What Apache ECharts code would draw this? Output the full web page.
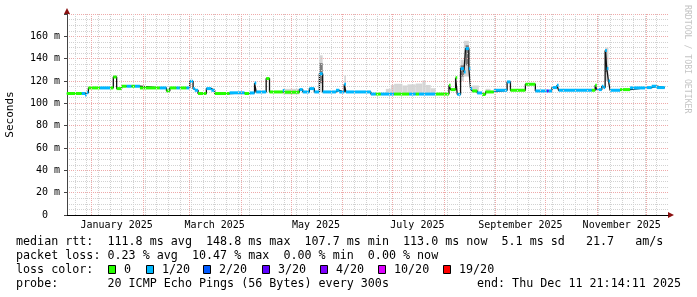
<!DOCTYPE html>
<html>
<head>
<meta charset="utf-8">
<script src="https://cdn.jsdelivr.net/npm/echarts@6/dist/echarts.min.js"></script>
<style>
html,body{margin:0;padding:0;background:#fff;}
#c{width:697px;height:297px;}
</style>
</head>
<body>
<div id="c"></div>
<script>
// ---- data ----
const axisStart = '2024-12-17 03:00';
const axisEnd = '2025-12-13 20:00';
const dataEnd = '2025-12-11 21:14';

// median rtt (ms) segments: start date, value, lost pings out of 20
const segStart = [
 '2024-12-17','2024-12-26','2024-12-28','2024-12-29','2024-12-30','2025-01-06','2025-01-12','2025-01-14','2025-01-16','2025-01-19',
 '2025-01-22','2025-01-25','2025-01-27','2025-01-30','2025-02-11','2025-02-15','2025-02-17','2025-02-21','2025-02-23','2025-02-27',
 '2025-03-01','2025-03-03','2025-03-04','2025-03-06','2025-03-11','2025-03-14','2025-03-16','2025-03-25','2025-04-03','2025-04-06',
 '2025-04-09','2025-04-10','2025-04-16','2025-04-18','2025-04-26','2025-04-27','2025-05-06','2025-05-08','2025-05-12','2025-05-15',
 '2025-05-18','2025-05-20','2025-05-28','2025-05-30','2025-06-02','2025-06-03','2025-06-18','2025-06-21','2025-06-24','2025-07-02',
 '2025-07-11','2025-07-15','2025-07-17','2025-07-27','2025-08-04','2025-08-05','2025-08-08','2025-08-09','2025-08-11','2025-08-13',
 '2025-08-14','2025-08-16','2025-08-17','2025-08-18','2025-08-21','2025-08-24','2025-08-26','2025-08-31','2025-09-08','2025-09-10',
 '2025-09-19','2025-09-25','2025-10-02','2025-10-03','2025-10-05','2025-10-08','2025-10-09','2025-10-29','2025-10-31','2025-11-01',
 '2025-11-04','2025-11-05','2025-11-06','2025-11-07','2025-11-08','2025-11-09','2025-11-15','2025-11-21','2025-11-30','2025-12-04',
 '2025-12-07'
];
const medianMs = [
 108.8,108.8,107.5,109.5,113.8,113.8,113.8,123.6,113.2,115.3,
 115.3,115.3,115.3,113.8,113.8,111.1,113.8,113.8,113.8,113.8,
 119.7,113.2,111.7,108.8,113.2,111.7,108.8,109.4,108.8,109.3,
 118.2,110.2,122.2,110.2,111.5,110.0,112.3,110.2,113.2,110.2,
 126.5,110.2,111.7,110.2,117.0,110.2,108.3,108.3,108.3,108.3,
 108.3,108.3,108.3,108.3,116.2,112.3,123.0,108.1,131.1,128.1,
 149.0,131.0,113.2,111.1,109.3,107.9,110.2,111.7,119.2,111.7,
 117.1,111.1,111.1,111.1,114.1,116.2,111.7,111.7,116.2,112.3,
 115.3,114.1,147.4,131.1,120.0,111.7,112.3,113.8,114.1,115.3,
 114.1
];
const lossCount = [
 0,1,1,1,0,1,0,0,0,0,
 1,0,1,0,1,0,0,1,0,1,
 1,1,1,0,1,1,0,1,0,1,
 1,1,0,0,1,0,1,1,1,1,
 1,1,1,1,1,1,1,0,1,0,
 1,0,1,0,0,0,0,1,1,1,
 1,1,1,0,1,0,0,1,1,0,
 0,1,3,1,1,1,1,0,0,1,
 1,1,1,1,1,1,0,1,1,1,
 1
];

// smoke (spread of the 20 pings), light outer band
const smokeStart = ['2025-04-26','2025-05-18','2025-06-02','2025-06-27','2025-06-30','2025-07-02','2025-07-07','2025-07-10','2025-07-15','2025-07-19','2025-07-21','2025-07-24','2025-08-11','2025-08-13','2025-08-18','2025-08-26','2025-11-06'];
const smokeEnd   = ['2025-05-06','2025-05-20','2025-06-03','2025-06-30','2025-07-02','2025-07-07','2025-07-10','2025-07-15','2025-07-19','2025-07-21','2025-07-24','2025-07-27','2025-08-13','2025-08-16','2025-08-22','2025-08-29','2025-11-08'];
const smokeLow   = [108, 110, 110, 108.5, 108.5, 108.5, 108.5, 108.5, 108.5, 108.5, 108.5, 108.5, 120, 124, 110, 110, 120];
const smokeHigh  = [113, 143, 125, 113, 116.5, 117.5, 116, 117, 117.7, 120.5, 116.5, 113.5, 139, 156, 116, 113, 150];
// dense core of the smoke
const coreStart = ['2025-05-18','2025-08-11','2025-08-14','2025-11-06'];
const coreEnd   = ['2025-05-20','2025-08-13','2025-08-16','2025-11-07'];
const coreLow   = [118, 124, 134, 128];
const coreHigh  = [136, 134, 152, 148];

// tick labels
const xLabelDates = ['2025-01-16','2025-03-16','2025-05-16','2025-07-16','2025-09-16','2025-11-16'];
const xLabelNames = ['January 2025','March 2025','May 2025','July 2025','September 2025','November 2025'];
const yLabelMax = 160;

// legend values
const lossLevels = [0, 1, 2, 3, 4, 10, 19];
const lossLabels = ['0', '1/20', '2/20', '3/20', '4/20', '10/20', '19/20'];
const lossColors = ['#26ff00', '#00b8ff', '#0059ff', '#5e00ff', '#7e00ff', '#dd00ff', '#ff0000'];
const statLine1 = 'median rtt:  111.8 ms avg  148.8 ms max  107.7 ms min  113.0 ms now  5.1 ms sd   21.7   am/s';
const statLine2 = 'packet loss: 0.23 % avg  10.47 % max  0.00 % min  0.00 % now';
const probeLine = 'probe:       20 ICMP Echo Pings (56 Bytes) every 300s';
const endLine = 'end: Thu Dec 11 21:14:11 2025';

// ---- helpers ----
function toTime(s) {
  const parts = s.split(' ');
  const d = parts[0].split('-').map(Number);
  let hh = 0, mm = 0;
  if (parts[1]) { const h = parts[1].split(':').map(Number); hh = h[0]; mm = h[1] || 0; }
  return new Date(d[0], d[1] - 1, d[2], hh, mm).getTime();
}
function lossColor(n) {
  let c = lossColors[0];
  for (let i = 0; i < lossLevels.length; i++) if (n >= lossLevels[i]) c = lossColors[i];
  return c;
}
const tMin = toTime(axisStart), tMax = toTime(axisEnd);

// grid line dates: month starts and weekly (Sunday) lines
const monthLines = [], weekLines = [];
for (let y = 2024, m = 11; ; ) {
  const t = new Date(y, m, 1).getTime();
  if (t > tMax) break;
  if (t >= tMin) monthLines.push(t);
  m++; if (m > 11) { m = 0; y++; }
}
for (let k = 0; ; k++) {
  const t = new Date(2024, 11, 22 + 7 * k).getTime();
  if (t > tMax) break;
  weekLines.push(t);
}

const segData = segStart.map((s, i) => [
  toTime(s),
  i + 1 < segStart.length ? toTime(segStart[i + 1]) : toTime(dataEnd),
  medianMs[i],
  lossCount[i]
]);
const stepData = segStart.map((s, i) => [toTime(s), medianMs[i]]);
stepData.push([toTime(dataEnd), medianMs[medianMs.length - 1]]);
const smokeData = smokeStart.map((s, i) => [toTime(s), toTime(smokeEnd[i]), smokeLow[i], smokeHigh[i]]);
const coreData = coreStart.map((s, i) => [toTime(s), toTime(coreEnd[i]), coreLow[i], coreHigh[i]]);

const labelTimes = xLabelDates.map(toTime);
const labelMap = {};
labelTimes.forEach((t, i) => { labelMap[t] = xLabelNames[i]; });

function bandItem(fill) {
  return function (params, api) {
    const a = api.coord([api.value(0), api.value(3)]);
    const b = api.coord([api.value(1), api.value(2)]);
    return { type: 'rect', shape: { x: a[0], y: a[1], width: b[0] - a[0], height: b[1] - a[1] }, style: { fill: fill } };
  };
}

const MONO = '"DejaVu Sans Mono", "Liberation Mono", monospace';
const chart = echarts.init(document.getElementById('c'), null, { renderer: 'canvas' });

// legend graphic
const LF = '11.7px ' + MONO;
const graphics = [];
function txt(text, x, y) {
  graphics.push({ type: 'text', silent: true, style: { text: text, x: x, y: y, font: LF, fill: '#000', verticalAlign: 'middle', align: 'left' } });
}
txt(statLine1, 16, 242);
txt(statLine2, 16, 255.5);
txt('loss color:', 16, 269.5);
const boxX = [108, 146, 203, 262, 320, 378, 443];
lossLabels.forEach((l, i) => {
  graphics.push({ type: 'rect', silent: true, shape: { x: boxX[i] + 0.5, y: 265.5, width: 7, height: 8 }, style: { fill: lossColors[i], stroke: '#000', lineWidth: 1 } });
  txt(l, boxX[i] + 16, 269.5);
});
txt(probeLine, 16, 283.5);
graphics.push({ type: 'text', silent: true, style: { text: endLine, x: 681, y: 283.5, font: LF, fill: '#000', verticalAlign: 'middle', align: 'right' } });
graphics.push({ type: 'text', silent: true, rotation: -Math.PI / 2, x: 687, y: 5,
  style: { text: 'RRDTOOL / TOBI OETIKER', x: 0, y: 0, font: '8.2px ' + MONO, fill: '#c4c4c4', verticalAlign: 'middle', align: 'left' } });

const option = {
  animation: false,
  backgroundColor: '#ffffff',
  grid: { left: 67, right: 29, top: 14, bottom: 82, containLabel: false, outerBoundsMode: 'none' },
  xAxis: [{
    type: 'value', min: tMin, max: tMax, z: 3, scale: true,
    axisLine: { show: true, onZero: false, lineStyle: { color: '#000', width: 1 } },
    axisTick: { show: false },
    splitLine: { show: false },
    axisLabel: {
      customValues: labelTimes, margin: 5, color: '#000', fontFamily: MONO, fontSize: 10,
      formatter: function (v) { return labelMap[v] || ''; }
    }
  }, {
    type: 'value', min: tMin, max: tMax, z: 2, position: 'bottom', scale: true,
    axisLine: { show: true, onZero: false, lineStyle: { color: '#8b1010', width: 1 }, symbol: ['none', 'triangle'], symbolSize: [6, 6], symbolOffset: [0, 3] },
    axisTick: { show: false }, axisLabel: { show: false }, splitLine: { show: false }
  }],
  yAxis: [{
    type: 'value', min: 0, max: 180, interval: 20, z: 3, position: 'left',
    name: 'Seconds', nameLocation: 'middle', nameGap: 51, nameRotate: 90,
    nameTextStyle: { color: '#000', fontFamily: MONO, fontSize: 11 },
    axisLine: { show: true, onZero: false, lineStyle: { color: '#444', width: 1 } },
    axisTick: { show: true, length: 3, lineStyle: { color: '#444' } },
    axisLabel: { color: '#000', fontFamily: MONO, fontSize: 10, margin: 7,
      formatter: function (v) { return v > yLabelMax ? '' : (v === 0 ? '0  ' : v + ' m'); } },
    splitLine: { show: true, lineStyle: { color: '#eeaaaa', type: 'dotted', width: 1 } },
    minorTick: { show: false, splitNumber: 4 },
    minorSplitLine: { show: true, lineStyle: { color: '#d2d2d2', type: 'dotted', width: 1 } }
  }, {
    type: 'value', min: 0, max: 180, interval: 20, z: 2, position: 'left', offset: 0,
    axisLine: { show: true, onZero: false, lineStyle: { color: '#8b1010', width: 1 }, symbol: ['none', 'triangle'], symbolSize: [6, 6], symbolOffset: [0, 3] },
    axisTick: { show: false }, axisLabel: { show: false }, splitLine: { show: false }
  }],
  graphic: graphics,
  series: [
    {
      type: 'line', data: [], z: 1, silent: true,
      markLine: { silent: true, symbol: ['none', 'none'], label: { show: false }, animation: false,
        lineStyle: { color: '#d2d2d2', type: 'dotted', width: 1 },
        data: weekLines.map(t => ({ xAxis: t })) }
    },
    {
      type: 'line', data: [], z: 1, silent: true,
      markLine: { silent: true, symbol: ['none', 'none'], label: { show: false }, animation: false,
        lineStyle: { color: '#eeaaaa', type: 'dotted', width: 1 },
        data: monthLines.map(t => ({ xAxis: t })) }
    },
    {
      type: 'custom', z: 2, silent: true, data: smokeData,
      encode: { x: [0, 1], y: [2, 3] }, renderItem: bandItem('#d6d6d6')
    },
    {
      type: 'custom', z: 2, silent: true, data: coreData,
      encode: { x: [0, 1], y: [2, 3] }, renderItem: bandItem('#7a7a7a')
    },
    {
      type: 'line', z: 3, silent: true, data: stepData, step: 'end', symbol: 'none',
      lineStyle: { color: '#111', width: 1.3 }
    },
    {
      type: 'custom', z: 4, silent: true, data: segData,
      encode: { x: [0, 1], y: 2 },
      renderItem: function (params, api) {
        const a = api.coord([api.value(0), api.value(2)]);
        const b = api.coord([api.value(1), api.value(2)]);
        return { type: 'rect', shape: { x: a[0], y: a[1] - 1.5, width: b[0] - a[0], height: 3 }, style: { fill: lossColor(api.value(3)) } };
      }
    }
  ]
};
chart.setOption(option);
</script>
</body>
</html>
